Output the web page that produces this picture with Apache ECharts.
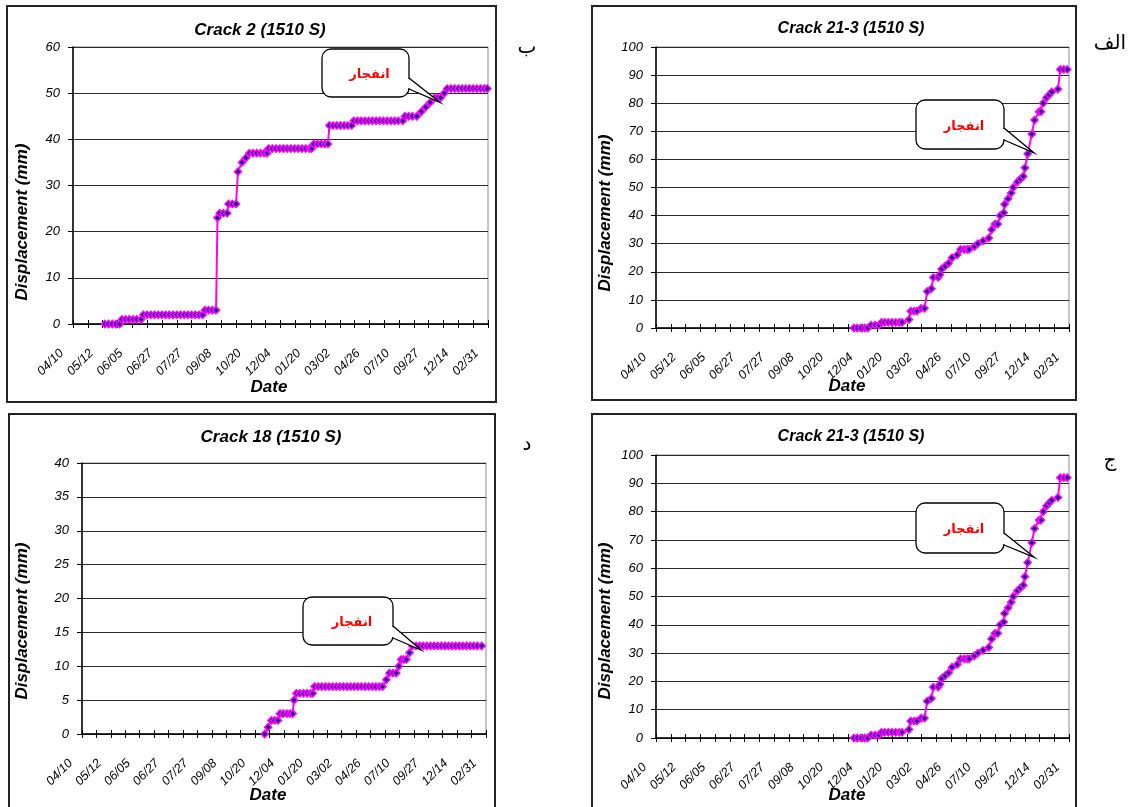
<!DOCTYPE html>
<html><head><meta charset="utf-8">
<script src="https://cdn.jsdelivr.net/npm/echarts@6/dist/echarts.min.js"></script>
<style>html,body{margin:0;padding:0;background:#fff}#c{width:1130px;height:807px}</style>
</head><body><div id="c"></div>
<script>
// ---------------- data ----------------
// Date axis: 28 tick intervals, one label on every 2nd tick (x values below are in tick units)
const dateLabels = ['04/10','05/12','06/05','06/27','07/27','09/08','10/20','12/04','01/20','03/02','04/26','07/10','09/27','12/14','02/31'];

const panelTitles = ['Crack 2 (1510 S)', 'Crack 21-3 (1510 S)', 'Crack 18 (1510 S)', 'Crack 21-3 (1510 S)'];
const panelLetters = ['ب', 'الف', 'د', 'ج'];
const yAxisName = 'Displacement (mm)';
const xAxisName = 'Date';
const yMax = [60, 100, 40, 100];
const yStep = [10, 10, 5, 10];
const calloutText = 'انفجار';
const calloutTips = [[24.76, 48], [25.63, 62.3], [23.5, 12.4], [25.66, 63.8]];

// [date position (tick units), displacement mm]
const crack2 = [
 [2.15,0],[2.4,0],[2.65,0],[2.9,0],[3.15,0],
 [3.3,1],[3.55,1],[3.8,1],[4.05,1],[4.3,1],[4.6,1],
 [4.75,2],[5.0,2],[5.25,2],[5.5,2],[5.75,2],[6.0,2],[6.25,2],[6.5,2],[6.75,2],[7.0,2],[7.25,2],[7.5,2],[7.75,2],[8.0,2],[8.25,2],[8.5,2],[8.75,2],
 [8.9,3],[9.15,3],[9.4,3],[9.65,3],
 [9.75,23],
 [9.9,24],[10.15,24],[10.4,24],
 [10.5,26],[10.75,26],[11.0,26],
 [11.13,33],[11.4,35],[11.67,36],
 [11.9,37],[12.15,37],[12.4,37],[12.65,37],[12.9,37],[13.1,37],
 [13.2,38],[13.45,38],[13.7,38],[13.95,38],[14.2,38],[14.45,38],[14.7,38],[14.95,38],[15.2,38],[15.45,38],[15.7,38],[15.95,38],[16.1,38],
 [16.25,39],[16.5,39],[16.75,39],[17.0,39],[17.2,39],
 [17.3,43],[17.55,43],[17.8,43],[18.05,43],[18.3,43],[18.55,43],[18.8,43],
 [18.95,44],[19.2,44],[19.45,44],[19.7,44],[19.95,44],[20.2,44],[20.45,44],[20.7,44],[20.95,44],[21.2,44],[21.45,44],[21.7,44],[21.95,44],[22.25,44],
 [22.4,45],[22.65,45],[22.9,45],[23.2,45],
 [23.5,46],[23.8,47],[24.1,48],
 [24.4,49],[24.6,49],[24.8,49],
 [25.05,50],
 [25.25,51],[25.5,51],[25.75,51],[26.0,51],[26.25,51],[26.5,51],[26.75,51],[27.0,51],[27.25,51],[27.5,51],[27.75,51],[27.95,51]
];

const crack21_3 = [
 [13.42,0],[13.65,0],[13.9,0],[14.15,0],[14.35,0],
 [14.58,1],[14.85,1],[15.12,1],
 [15.28,2],[15.5,2],[15.75,2],[16.0,2],[16.25,2],[16.5,2],[16.68,2],
 [17.15,3],
 [17.27,6],[17.5,6],[17.69,6],
 [17.97,7],[18.2,7],
 [18.39,13],[18.67,14],
 [18.8,18],[19.13,18],
 [19.25,19],[19.37,21],[19.6,22],[19.83,23],
 [20.07,25],[20.42,26],
 [20.65,28],[20.9,28],[21.1,28],[21.23,28],
 [21.58,29],[21.82,30],[22.17,31],[22.56,32],[22.75,35],
 [22.98,37],[23.17,37],[23.33,40],[23.57,41],[23.63,44],[23.87,46],[24.08,48],[24.22,50],[24.5,52],[24.7,53],[24.9,54],
 [25.01,57],[25.2,62],[25.48,69],[25.66,74],[25.97,77],[26.1,77],[26.25,80],[26.48,82],[26.65,83],[26.83,84],[27.25,85],
 [27.41,92],[27.65,92],[27.88,92]
];

const crack18 = [
 [12.66,0],[12.9,1],[13.13,2],[13.35,2],[13.58,2],
 [13.72,3],[13.95,3],[14.2,3],[14.42,3],[14.6,3],
 [14.69,5],
 [14.86,6],[15.1,6],[15.35,6],[15.6,6],[15.85,6],[15.99,6],
 [16.12,7],[16.37,7],[16.62,7],[16.87,7],[17.12,7],[17.37,7],[17.62,7],[17.87,7],[18.12,7],[18.37,7],[18.62,7],[18.87,7],[19.12,7],[19.37,7],[19.62,7],[19.87,7],[20.12,7],[20.37,7],[20.62,7],[20.83,7],
 [21.09,8],[21.31,9],[21.55,9],[21.78,9],[21.96,10],[22.12,11],[22.3,11],[22.47,11],[22.7,12],
 [22.9,13],[23.15,13],[23.4,13],[23.65,13],[23.9,13],[24.15,13],[24.4,13],[24.65,13],[24.9,13],[25.15,13],[25.4,13],[25.65,13],[25.9,13],[26.15,13],[26.4,13],[26.65,13],[26.9,13],[27.15,13],[27.4,13],[27.7,13]
];

// ---------------- layout ----------------
const FONT = '"Liberation Sans", Arial, sans-serif';
const AR_FONT = '"DejaVu Sans", sans-serif';
const seriesData = [crack2, crack21_3, crack18, crack21_3];
const layout = [
 {grid:{left:73,top:47,width:415,height:277}, frame:[7,6,489,396], title:[260,30,17], yName:[22,222], date:[269,387], letter:[527,48], bubble:[322,49,87,48], tailY:[78,89]},
 {grid:{left:656,top:47,width:413,height:281}, frame:[592,6,484,394], title:[851,29,16], yName:[605,213], date:[847,386], letter:[1110,44], bubble:[916,100,88,49], tailY:[128,140]},
 {grid:{left:82,top:463,width:404,height:271}, frame:[9,414,486,400], title:[271,437,17], yName:[22,621], date:[268,795], letter:[527,445], bubble:[303,597,90,48], tailY:[626,638]},
 {grid:{left:656,top:455,width:413,height:283}, frame:[592,414,484,400], title:[851,437,16], yName:[605,621], date:[847,795], letter:[1110,461], bubble:[916,503,88,50], tailY:[533,545]}
];

const chart = echarts.init(document.getElementById('c'));
const grids = [], xAxes = [], yAxes = [], series = [];
layout.forEach((p, i) => {
  grids.push(Object.assign({show:true, borderColor:'#8c8c8c', borderWidth:1, backgroundColor:'#fff'}, p.grid));
  xAxes.push({type:'value', gridIndex:i, min:0, max:28, interval:1, position:'bottom',
    axisLine:{show:true, onZero:false, lineStyle:{color:'#000', width:1.5}},
    axisTick:{show:true, length:4, lineStyle:{color:'#000', width:1}},
    axisLabel:{rotate:45, margin:16, padding:[0,16,0,0], fontStyle:'italic', fontFamily:FONT, fontSize:12.5, color:'#000',
      formatter: v => { const k = Math.round(v); return k % 2 === 0 ? dateLabels[k / 2] : ''; }},
    splitLine:{show:false}});
  xAxes.push({type:'value', gridIndex:i, min:0, max:28, interval:1, position:'bottom',
    axisLine:{show:false}, axisTick:{show:true, inside:true, length:4, lineStyle:{color:'#000', width:1}},
    axisLabel:{show:false}, splitLine:{show:false}});
  yAxes.push({type:'value', gridIndex:i, min:0, max:yMax[i], interval:yStep[i],
    axisLine:{show:true, lineStyle:{color:'#000', width:1.5}},
    axisTick:{show:true, length:5, lineStyle:{color:'#000', width:1}},
    axisLabel:{margin:13, fontStyle:'italic', fontFamily:FONT, fontSize:13, color:'#000'},
    splitLine:{show:true, lineStyle:{color:'#2a2a2a', width:1}}});
  series.push({type:'line', name:panelTitles[i], xAxisIndex:2*i, yAxisIndex:i, data:seriesData[i],
    symbol:'diamond', symbolSize:7, showSymbol:true, showAllSymbol:true,
    lineStyle:{color:'#ff00ff', width:2},
    itemStyle:{color:'#000080', borderColor:'#ff00ff', borderWidth:1.6}, z:3});
});

chart.setOption({animation:false, backgroundColor:'#fff', grid:grids, xAxis:xAxes, yAxis:yAxes, series:series});

const g = [];
layout.forEach((p, i) => {
  const f = p.frame;
  g.push({type:'rect', silent:true, z:0, shape:{x:f[0], y:f[1], width:f[2], height:f[3]}, style:{fill:'none', stroke:'#222', lineWidth:2}});
  g.push({type:'text', silent:true, x:p.title[0], y:p.title[1], style:{text:panelTitles[i], fill:'#000', fontFamily:FONT, fontSize:p.title[2], fontWeight:'bold', fontStyle:'italic', align:'center', verticalAlign:'middle'}});
  g.push({type:'text', silent:true, x:p.yName[0], y:p.yName[1], rotation:Math.PI/2, style:{text:yAxisName, fill:'#000', fontFamily:FONT, fontSize:17, fontWeight:'bold', fontStyle:'italic', align:'center', verticalAlign:'middle'}});
  g.push({type:'text', silent:true, x:p.date[0], y:p.date[1], style:{text:xAxisName, fill:'#000', fontFamily:FONT, fontSize:17, fontWeight:'bold', fontStyle:'italic', align:'center', verticalAlign:'middle'}});
  g.push({type:'text', silent:true, x:p.letter[0], y:p.letter[1], style:{text:panelLetters[i], fill:'#000', fontFamily:AR_FONT, fontSize:20, align:'center', verticalAlign:'middle'}});
  // callout
  const tip = chart.convertToPixel({xAxisIndex:2*i, yAxisIndex:i}, calloutTips[i]);
  const b = p.bubble, bx = b[0] + b[2];
  g.push({type:'rect', silent:true, z:100, shape:{x:b[0], y:b[1], width:b[2], height:b[3], r:9}, style:{fill:'#fff', stroke:'#000', lineWidth:1.3}});
  g.push({type:'polygon', silent:true, z:101, shape:{points:[[bx-2.5,p.tailY[0]+0.9],[bx,p.tailY[0]+0.9],tip,[bx,p.tailY[1]-0.9],[bx-2.5,p.tailY[1]-0.9]]}, style:{fill:'#fff', stroke:'none'}});
  g.push({type:'polyline', silent:true, z:102, shape:{points:[[bx,p.tailY[0]],tip,[bx,p.tailY[1]]]}, style:{fill:'none', stroke:'#000', lineWidth:1.3}});
  g.push({type:'text', silent:true, z:103, x:b[0]+b[2]/2+4, y:b[1]+b[3]/2+2, style:{text:calloutText, fill:'#ff0000', fontFamily:AR_FONT, fontSize:13, fontWeight:'bold', align:'center', verticalAlign:'middle'}});
});
chart.setOption({graphic:{elements:g}});
</script>
</body></html>
